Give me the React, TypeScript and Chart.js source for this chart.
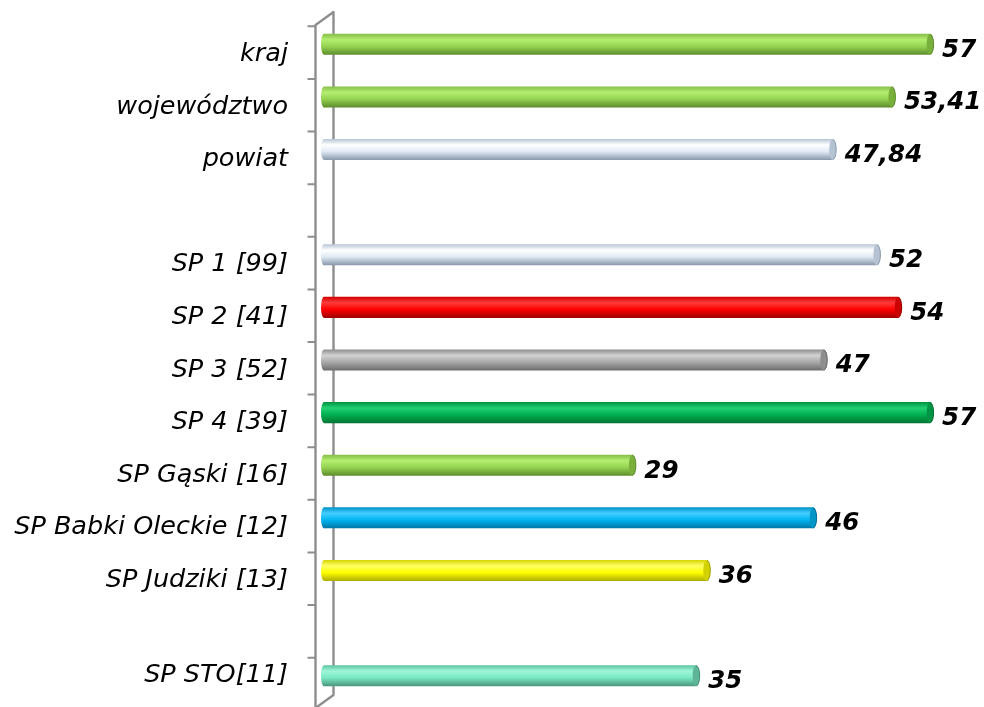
import React, { useEffect, useRef } from "react";
import { Chart, registerables } from "chart.js";

Chart.register(...registerables);

const categories: string[] = [
  "kraj",
  "województwo",
  "powiat",
  "",
  "SP 1 [99]",
  "SP 2 [41]",
  "SP 3 [52]",
  "SP 4 [39]",
  "SP Gąski [16]",
  "SP Babki Oleckie [12]",
  "SP Judziki [13]",
  "",
  "SP STO[11]",
];

const values: (number | null)[] = [57, 53.41, 47.84, null, 52, 54, 47, 57, 29, 46, 36, null, 35];

const valueLabels: string[] = values.map((v) => (v == null ? "" : String(v).replace(".", ",")));

const barColorKeys: string[] = [
  "lime", "lime", "light", "", "light", "red", "gray", "green", "lime", "cyan", "yellow", "", "aqua",
];

type Pal = { top: string; hi: string; mid: string; bot: string; cap: string; edge: string };
const palettes: Record<string, Pal> = {
  lime: { top: "#86bd48", hi: "#b4ee70", mid: "#95d352", bot: "#5d8c2a", cap: "#79b03c", edge: "#5a8a28" },
  light: { top: "#b7c5d6", hi: "#ffffff", mid: "#dfe9f4", bot: "#8797ab", cap: "#b4c2d2", edge: "#8a9aae" },
  red: { top: "#d00000", hi: "#ff3c3c", mid: "#ff0000", bot: "#9c0000", cap: "#cc0000", edge: "#900000" },
  gray: { top: "#8c8c8c", hi: "#d2d2d2", mid: "#a9a9a9", bot: "#6c6c6c", cap: "#8e8e8e", edge: "#666666" },
  green: { top: "#009440", hi: "#22d072", mid: "#00b050", bot: "#007533", cap: "#009444", edge: "#006a2e" },
  cyan: { top: "#0092c8", hi: "#45ceff", mid: "#00b4f0", bot: "#0074a4", cap: "#0096c8", edge: "#006a96" },
  yellow: { top: "#d4d400", hi: "#ffff66", mid: "#ffff00", bot: "#adad00", cap: "#d2d200", edge: "#9c9c00" },
  aqua: { top: "#5cc49f", hi: "#9ef6d8", mid: "#7ae8c4", bot: "#4b967c", cap: "#5fb696", edge: "#468a72" },
};

function palFor(i: number): Pal {
  return palettes[barColorKeys[i]] || palettes.light;
}

function makeGradient(chart: any, i: number): any {
  const pal = palFor(i);
  const y = chart.scales && chart.scales.y;
  if (!y || !chart.chartArea) return pal.mid;
  const step = Math.abs(y.getPixelForValue(1) - y.getPixelForValue(0));
  const half = (step * 0.4) / 2;
  const yc = y.getPixelForValue(i);
  if (!isFinite(yc) || !isFinite(half)) return pal.mid;
  const g = chart.ctx.createLinearGradient(0, yc - half, 0, yc + half);
  g.addColorStop(0, pal.top);
  g.addColorStop(0.28, pal.hi);
  g.addColorStop(0.6, pal.mid);
  g.addColorStop(1, pal.bot);
  return g;
}

const axisPlugin = {
  id: "axis3d",
  beforeDraw(chart: any) {
    // Excel lifts the last category label so it stays inside the plot
    const y = chart.scales.y;
    if (!y) return;
    const items = y.getLabelItems();
    if (items && items.length) {
      const last = items[items.length - 1];
      if (last && last.options && last.options.translation) {
        last.options.translation[1] -= 10;
      }
    }
  },
  beforeDatasetsDraw(chart: any) {
    const { ctx, scales } = chart;
    const x = scales.x;
    const y = scales.y;
    const z = x.getPixelForValue(0);
    const step = Math.abs(y.getPixelForValue(1) - y.getPixelForValue(0));
    const top = y.getPixelForValue(0) - step / 2;
    const bottom = y.getPixelForValue(categories.length - 1) + step / 2;
    const backX = z + 9.5;
    const frontX = z - 8.5;
    const backTop = top - 6;
    const backBottom = bottom - 7;
    const frontTop = backTop + 13;
    const frontBottom = backBottom + 13;
    ctx.save();
    ctx.strokeStyle = "#8e8e8e";
    ctx.lineWidth = 2.4;
    ctx.lineJoin = "round";
    ctx.beginPath();
    ctx.moveTo(frontX, frontBottom);
    ctx.lineTo(frontX, frontTop);
    ctx.lineTo(backX, backTop);
    ctx.lineTo(backX, backBottom);
    ctx.lineTo(frontX, frontBottom);
    ctx.stroke();
    ctx.lineWidth = 2;
    ctx.beginPath();
    for (let k = 0; k <= categories.length; k++) {
      const yy = top + 8.3 + k * step;
      if (yy > frontBottom) break;
      ctx.moveTo(frontX - 8, yy);
      ctx.lineTo(frontX, yy);
    }
    ctx.stroke();
    ctx.restore();
  },
  afterDatasetsDraw(chart: any) {
    const { ctx } = chart;
    const meta = chart.getDatasetMeta(0);
    ctx.save();
    meta.data.forEach((el: any, i: number) => {
      if (values[i] == null) return;
      const p = el.getProps(["x", "y", "base", "height"], true);
      if (!isFinite(p.x) || !isFinite(p.y)) return;
      const pal = palFor(i);
      const h2 = p.height / 2;
      ctx.fillStyle = makeGradient(chart, i);
      ctx.beginPath();
      ctx.ellipse(p.base, p.y, 3, h2, 0, 0, Math.PI * 2);
      ctx.fill();
      ctx.fillStyle = pal.cap;
      ctx.beginPath();
      ctx.ellipse(p.x, p.y, 3.5, h2, 0, 0, Math.PI * 2);
      ctx.fill();
      ctx.strokeStyle = pal.edge;
      ctx.lineWidth = 1;
      ctx.beginPath();
      ctx.ellipse(p.x, p.y, 3.5, h2 - 0.5, 0, -Math.PI / 2, Math.PI / 2);
      ctx.stroke();
      ctx.fillStyle = "#000000";
      ctx.font = "italic bold 24.5px 'DejaVu Sans'";
      ctx.textAlign = "left";
      ctx.textBaseline = "middle";
      ctx.fillText(valueLabels[i], p.x + 12, p.y + 6);
    });
    ctx.restore();
  },
};

export default function App() {
  const canvasRef = useRef<HTMLCanvasElement | null>(null);

  useEffect(() => {
    const canvas = canvasRef.current;
    if (!canvas) return;
    const chart = new Chart(canvas, {
      type: "bar",
      data: {
        labels: categories,
        datasets: [
          {
            data: values as any,
            backgroundColor: (c: any) => makeGradient(c.chart, c.dataIndex),
            borderWidth: 0,
            barPercentage: 0.4,
            categoryPercentage: 1,
          },
        ],
      },
      options: {
        indexAxis: "y",
        animation: false,
        responsive: true,
        maintainAspectRatio: false,
        layout: { padding: { top: 18, bottom: 5, right: 22, left: 0 } },
        plugins: {
          legend: { display: false },
          tooltip: { enabled: false },
        },
        scales: {
          x: { display: false, min: 0, max: 60 },
          y: {
            afterFit: (s: any) => {
              s.width = 324;
              s.paddingTop = 0;
              s.paddingBottom = 0;
            },
            grid: { display: false, drawTicks: false },
            border: { display: false },
            ticks: {
              padding: 36,
              labelOffset: 10,
              autoSkip: false,
              color: "#000000",
              font: { family: "'DejaVu Sans'", style: "italic", size: 25.5 },
            },
          },
        },
      },
      plugins: [axisPlugin],
    });
    return () => chart.destroy();
  }, []);

  return (
    <div style={{ position: "fixed", left: 0, top: 0, width: 984, height: 707, background: "#ffffff" }}>
      <canvas ref={canvasRef} />
    </div>
  );
}
